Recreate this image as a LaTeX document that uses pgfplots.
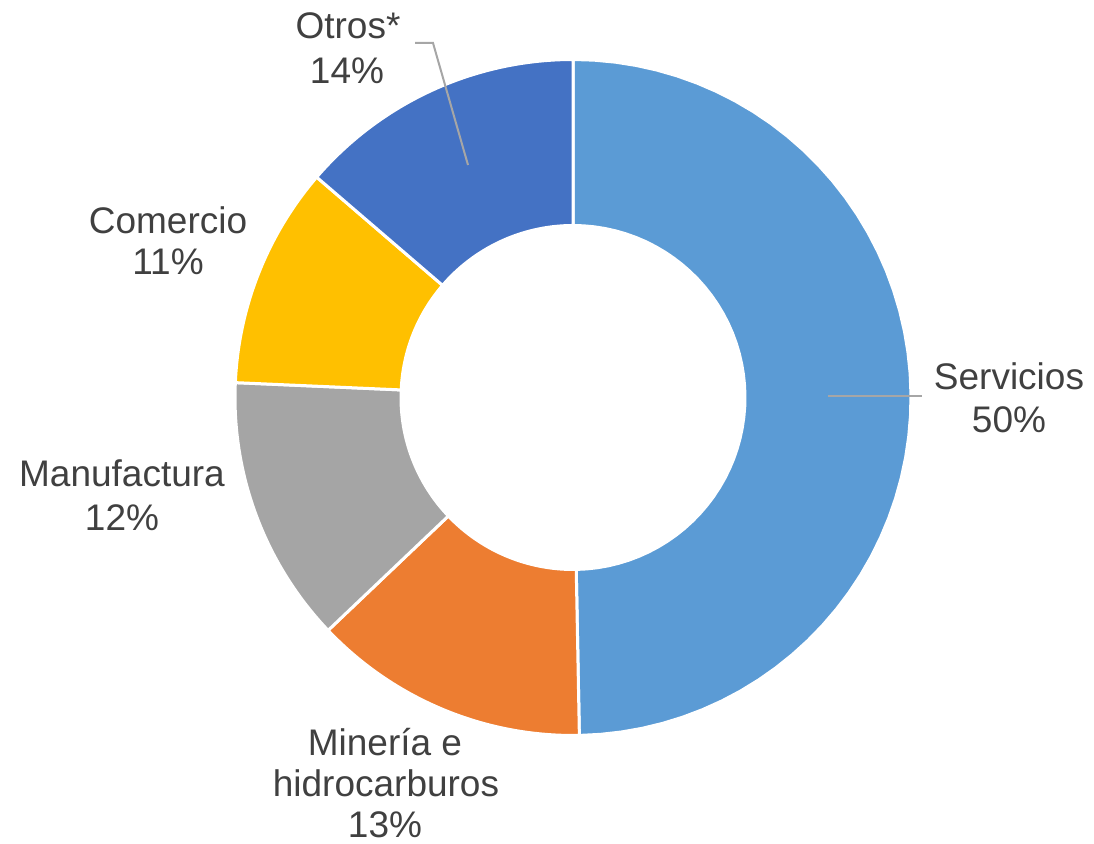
\documentclass[border=0pt]{standalone}
\usepackage{pgfplots}
\pgfplotsset{compat=1.18}
\usepackage{pgfplotstable}
\usepackage{fontspec}
\setmainfont{Liberation Sans}
\definecolor{cServ}{HTML}{5B9BD5}
\definecolor{cMin}{HTML}{ED7D31}
\definecolor{cMan}{HTML}{A5A5A5}
\definecolor{cCom}{HTML}{FFC000}
\definecolor{cOtr}{HTML}{4472C4}
\definecolor{txt}{HTML}{404040}
\definecolor{lead}{HTML}{A6A6A6}
\tikzset{lbl/.style={font=\fontsize{18.5}{22}\selectfont, text=txt, inner sep=0pt, anchor=base}}

% share of each sector (%), clockwise from 12 o'clock
\pgfplotstableread[col sep=comma]{
name,value,color
Servicios,49.7,cServ
Mineria e hidrocarburos,13.2,cMin
Manufactura,12.8,cMan
Comercio,10.6,cCom
Otros,13.7,cOtr
}\piedata

\begin{document}
\begin{tikzpicture}
\begin{axis}[
  width=547pt, height=422pt, scale only axis,
  xmin=0, xmax=1094, ymin=0, ymax=844,
  hide axis, clip=false,
]
\pgfplotstablegetrowsof{\piedata}
\pgfmathtruncatemacro\nrows{\pgfplotsretval-1}
\def\cum{0}
\pgfplotsforeachungrouped \i in {0,...,\nrows}{%
  \pgfplotstablegetelem{\i}{value}\of\piedata \let\val\pgfplotsretval
  \pgfplotstablegetelem{\i}{color}\of\piedata \let\col\pgfplotsretval
  \pgfmathsetmacro\aone{90-3.6*\cum}%
  \pgfmathsetmacro\cum{\cum+\val}%
  \pgfmathsetmacro\atwo{90-3.6*\cum}%
  \edef\temp{\noexpand\addplot[fill=\col, draw=white, line width=1.5pt, line join=round,
     variable=\noexpand\t, samples at={0,2,...,100,200,202,...,300}]
   ({573+((\noexpand\t<150)*338+(\noexpand\t>150)*172)*cos((\noexpand\t<150)*(\aone+(\atwo-\aone)*\noexpand\t/100)+(\noexpand\t>150)*(\atwo-(\atwo-\aone)*(\noexpand\t-200)/100))},
    {446.5+((\noexpand\t<150)*338+(\noexpand\t>150)*172)*sin((\noexpand\t<150)*(\aone+(\atwo-\aone)*\noexpand\t/100)+(\noexpand\t>150)*(\atwo-(\atwo-\aone)*(\noexpand\t-200)/100))}) -- cycle;}%
  \temp
}
% leader lines
\addplot[lead, line width=1pt, mark=none] coordinates {(415,801) (433,801) (468,679)};
\addplot[lead, line width=1pt, mark=none] coordinates {(828,448) (922,448)};
% labels
\node[lbl] at (axis cs:348,805) {Otros*};
\node[lbl] at (axis cs:347,760) {14\%};
\node[lbl] at (axis cs:168,610) {Comercio};
\node[lbl] at (axis cs:168,569) {11\%};
\node[lbl] at (axis cs:1009,454) {Servicios};
\node[lbl] at (axis cs:1009,411) {50\%};
\node[lbl] at (axis cs:122,357) {Manufactura};
\node[lbl] at (axis cs:122,313) {12\%};
\node[lbl] at (axis cs:385,88) {Minería e};
\node[lbl] at (axis cs:386,47) {hidrocarburos};
\node[lbl] at (axis cs:385,6) {13\%};
\end{axis}
\pgfresetboundingbox
\path (0,0) rectangle (547pt,422pt);
\end{tikzpicture}
\end{document}
